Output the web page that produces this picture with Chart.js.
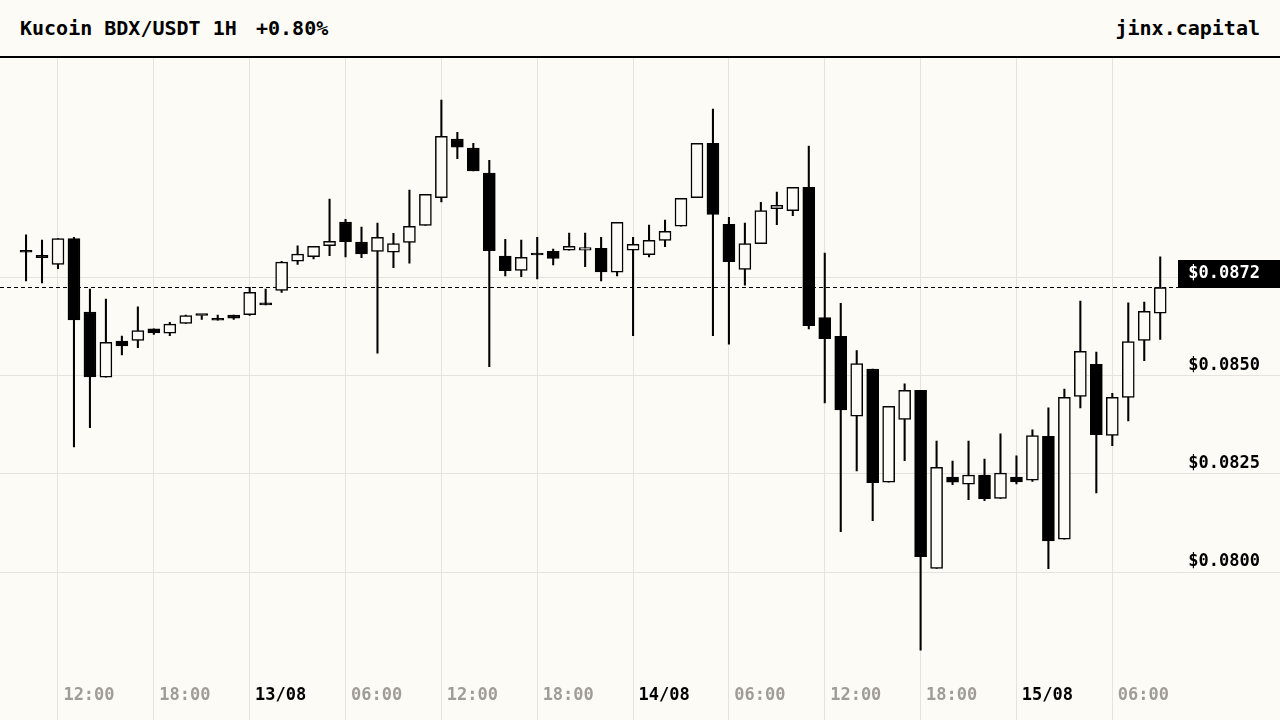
<!DOCTYPE html>
<html>
<head>
<meta charset="utf-8">
<script src="https://cdn.jsdelivr.net/npm/chart.js@4.4.1/dist/chart.umd.min.js"></script>
<style>
  html, body { margin: 0; padding: 0; background: #fdfbf6; }
  body { width: 1280px; height: 720px; position: relative; overflow: hidden; }
  #head {
    position: absolute; left: 0; top: 0; width: 1280px; height: 56px;
    border-bottom: 2px solid #000;
    font: bold 20px 'DejaVu Sans Mono', monospace; line-height: 56px; color: #000;
  }
  #head span { position: absolute; white-space: pre; }
  #head .l { left: 20px; }
  #head .chg { left: 256px; }
  #head .r { right: 20px; }
  #wrap { position: absolute; left: 0; top: 58px; width: 1280px; height: 662px; }
</style>
</head>
<body>
<div id="head"><span class="l">Kucoin BDX/USDT 1H</span><span class="chg">+0.80%</span><span class="r">jinx.capital</span></div>
<div id="wrap"><canvas id="myChart" width="1280" height="662"></canvas></div>
<script>
// hourly candles, 12/08 10:00 -> 15/08 09:00
const open = [0.08814, 0.08806, 0.08783, 0.08849, 0.08662, 0.08496, 0.08588, 0.08590, 0.08619, 0.08608,
    0.08633, 0.08653, 0.08641, 0.08654, 0.08655, 0.08680, 0.08717, 0.08791, 0.08803, 0.08831,
    0.08891, 0.08840, 0.08816, 0.08814, 0.08839, 0.08882, 0.08953, 0.09102, 0.09079, 0.09015,
    0.08804, 0.08768, 0.08807, 0.08816, 0.08819, 0.08819, 0.08824, 0.08763, 0.08819, 0.08808,
    0.08844, 0.08880, 0.08953, 0.09091, 0.08885, 0.08770, 0.08836, 0.08925, 0.08920, 0.08979,
    0.08648, 0.08600, 0.08397, 0.08517, 0.08229, 0.08389, 0.08463, 0.08010, 0.08242, 0.08224,
    0.08247, 0.08188, 0.08242, 0.08234, 0.08346, 0.08084, 0.08447, 0.08529, 0.08348, 0.08445,
    0.08590, 0.08659];
const high = [0.08858, 0.08845, 0.08849, 0.08852, 0.08720, 0.08695, 0.08601, 0.08675, 0.08619, 0.08636,
    0.08654, 0.08653, 0.08654, 0.08654, 0.08725, 0.08720, 0.08791, 0.08830, 0.08829, 0.08949,
    0.08898, 0.08878, 0.08888, 0.08862, 0.08972, 0.08961, 0.09201, 0.09119, 0.09091, 0.09048,
    0.08847, 0.08845, 0.08852, 0.08822, 0.08863, 0.08863, 0.08852, 0.08890, 0.08852, 0.08883,
    0.08896, 0.08951, 0.09091, 0.09178, 0.08903, 0.08888, 0.08941, 0.08967, 0.08979, 0.09084,
    0.08812, 0.08684, 0.08564, 0.08517, 0.08422, 0.08479, 0.08463, 0.08334, 0.08283, 0.08334,
    0.08288, 0.08352, 0.08296, 0.08362, 0.08418, 0.08466, 0.08690, 0.08560, 0.08455, 0.08685,
    0.08687, 0.08802];
const low = [0.08741, 0.08736, 0.08772, 0.08319, 0.08368, 0.08496, 0.08553, 0.08571, 0.08605, 0.08602,
    0.08633, 0.08643, 0.08641, 0.08643, 0.08653, 0.08680, 0.08712, 0.08783, 0.08797, 0.08805,
    0.08802, 0.08800, 0.08557, 0.08775, 0.08786, 0.08882, 0.08942, 0.09052, 0.09021, 0.08523,
    0.08754, 0.08752, 0.08746, 0.08782, 0.08819, 0.08777, 0.08741, 0.08754, 0.08602, 0.08802,
    0.08828, 0.08880, 0.08953, 0.08602, 0.08580, 0.08730, 0.08836, 0.08884, 0.08907, 0.08619,
    0.08431, 0.08103, 0.08258, 0.08131, 0.08229, 0.08284, 0.07802, 0.08010, 0.08223, 0.08185,
    0.08182, 0.08188, 0.08225, 0.08231, 0.08009, 0.08084, 0.08418, 0.08202, 0.08322, 0.08385,
    0.08538, 0.08592];
const close = [0.08814, 0.08800, 0.08849, 0.08642, 0.08497, 0.08585, 0.08576, 0.08615, 0.08609, 0.08631,
    0.08653, 0.08653, 0.08641, 0.08646, 0.08712, 0.08680, 0.08789, 0.08809, 0.08829, 0.08842,
    0.08841, 0.08810, 0.08852, 0.08836, 0.08880, 0.08961, 0.09109, 0.09081, 0.09021, 0.08818,
    0.08767, 0.08801, 0.08807, 0.08798, 0.08829, 0.08826, 0.08764, 0.08890, 0.08834, 0.08844,
    0.08867, 0.08951, 0.09091, 0.08910, 0.08790, 0.08836, 0.08920, 0.08933, 0.08979, 0.08627,
    0.08594, 0.08413, 0.08531, 0.08228, 0.08422, 0.08463, 0.08040, 0.08267, 0.08229, 0.08247,
    0.08187, 0.08252, 0.08230, 0.08348, 0.08080, 0.08445, 0.08562, 0.08350, 0.08445, 0.08587,
    0.08664, 0.08724];

// x = hours since 12/08 12:00
const xTicks = [0, 6, 12, 18, 24, 30, 36, 42, 48, 54, 60, 66];
const xTickLabels = ["12:00", "18:00", "13/08", "06:00", "12:00", "18:00", "14/08", "06:00", "12:00", "18:00", "15/08", "06:00"];
const yTicks = [0.0800, 0.0825, 0.0850, 0.0875];

const bg = "#fdfbf6";
const gridColor = "#e6e3de";
const font = { family: "'DejaVu Sans Mono', monospace", size: 17, weight: "bold" };
const hours = open.map((v, i) => i - 2);
const last = close[close.length - 1];

const align = v => Math.round(v - 0.5) + 0.5;

const priceLine = {
    id: "priceLine",
    beforeDatasetsDraw(chart) {
        const c = chart.ctx;
        const xScale = chart.scales.x;
        const yScale = chart.scales.y;
        const area = chart.chartArea;
        c.save();
        // gridlines run on past the axes to the canvas edges
        c.strokeStyle = gridColor;
        c.lineWidth = 1;
        yTicks.forEach(v => {
            const gy = align(yScale.getPixelForValue(v));
            c.beginPath();
            c.moveTo(area.right, gy);
            c.lineTo(chart.width, gy);
            c.stroke();
        });
        xTicks.forEach(v => {
            const gx = align(xScale.getPixelForValue(v));
            c.beginPath();
            c.moveTo(gx, area.bottom);
            c.lineTo(gx, chart.height);
            c.stroke();
        });
        const y = align(yScale.getPixelForValue(last));
        c.strokeStyle = "#000";
        c.lineWidth = 1.2;
        c.setLineDash([4, 3]);
        c.beginPath();
        c.moveTo(0, y);
        c.lineTo(1178, y);
        c.stroke();
        c.restore();
    },
    afterDraw(chart) {
        const c = chart.ctx;
        const y = align(chart.scales.y.getPixelForValue(last));
        c.save();
        c.fillStyle = "#000";
        c.fillRect(1178, y - 27.5, chart.width - 1178, 28);
        c.fillStyle = "#fff";
        c.font = "bold 17px 'DejaVu Sans Mono', monospace";
        c.textAlign = "right";
        c.textBaseline = "middle";
        c.fillText("$" + last.toFixed(4), 1260, y - 13.5);
        c.restore();
    }
};

const ctx = document.getElementById("myChart").getContext("2d");
new Chart(ctx, {
    type: "bar",
    data: {
        datasets: [{
            label: "body",
            order: 0,
            data: hours.map((h, i) => ({ x: h, y: [open[i], close[i]] })),
            backgroundColor: close.map((c, i) => c > open[i] ? bg : "#000"),
            borderColor: "#000",
            borderWidth: 1.5,
            borderSkipped: false,
            barThickness: 12,
            minBarLength: 2,
            grouped: false
        }, {
            label: "wick",
            order: 1,
            data: hours.map((h, i) => ({ x: h, y: [low[i], high[i]] })),
            backgroundColor: "#000",
            borderWidth: 0,
            barThickness: 1.4,
            grouped: false
        }]
    },
    options: {
        responsive: false,
        animation: false,
        layout: { autoPadding: false, padding: { top: 0, left: 0, right: 20, bottom: 11.8 } },
        plugins: { legend: { display: false }, tooltip: { enabled: false } },
        scales: {
            x: {
                type: "linear",
                offset: false,
                min: -3.63,
                max: 70.26,
                afterBuildTicks: axis => { axis.ticks = xTicks.map(v => ({ value: v })); },
                grid: { color: gridColor, offset: false, tickLength: 25.8, tickColor: "rgba(0,0,0,0)" },
                border: { display: false },
                ticks: {
                    autoSkip: false,
                    maxRotation: 0,
                    padding: 2,
                    labelOffset: 31,
                    font: font,
                    color: c => (xTickLabels[c.index] || "").includes("/") ? "#000" : "#a09d98",
                    callback: (v, i) => xTickLabels[i]
                }
            },
            y: {
                position: "right",
                min: 0.07782,
                max: 0.09308,
                afterBuildTicks: axis => { axis.ticks = yTicks.map(v => ({ value: v })); },
                grid: { color: gridColor, tickLength: 8, tickColor: "rgba(0,0,0,0)" },
                border: { display: false },
                ticks: {
                    align: "start",
                    padding: 0,
                    labelOffset: -19,
                    font: font,
                    color: "#000",
                    // the last-price tag sits over any label too close to it
                    callback: v => Math.abs(v - last) < 0.0008 ? "" : "$" + v.toFixed(4)
                }
            }
        }
    },
    plugins: [priceLine]
});
</script>
</body>
</html>
